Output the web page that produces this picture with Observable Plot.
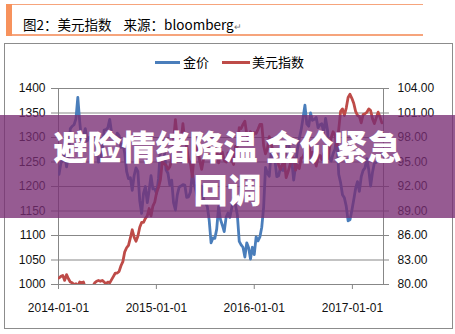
<!DOCTYPE html>
<html>
<head>
<meta charset="utf-8">
<script src="https://cdn.jsdelivr.net/npm/d3@7"></script>
<script src="https://cdn.jsdelivr.net/npm/@observablehq/plot@0.6"></script>
<style>
  html, body { margin: 0; padding: 0; background: #fff; }
  #wrap { position: relative; width: 455px; height: 334px; overflow: hidden; background: #fff; }
  #plot { position: absolute; left: 0; top: 0; }
  .abs { position: absolute; }
  .cjk { font-family: "Noto Sans CJK SC", "Noto Sans", sans-serif; }
</style>
</head>
<body>
<div id="wrap">
  <div id="plot"></div>
  <div class="abs" style="left:4px;top:43px;width:449px;height:286px;box-sizing:border-box;border:1px solid #8c8c8c;"></div>
  <!-- title box -->
  <div class="abs" style="left:6px;top:4px;width:417px;height:1px;background:#f6a47c;"></div>
  <div class="abs" style="left:6px;top:34px;width:417px;height:2px;background:#f6a47c;"></div>
  <div class="abs" style="left:6px;top:4px;width:6px;height:32px;background:#f7925c;"></div>
  <div id="title" class="abs cjk" style="left:23px;top:15px;font-size:13.5px;line-height:18px;color:#000;white-space:pre;"></div>
  <!-- legend -->
  <div id="legend"></div>
  <!-- overlay -->
  <div class="abs" style="left:0;top:115px;width:455px;height:103px;background:rgba(120,45,115,0.78);"></div>
  <div id="headline" class="abs cjk" style="left:0;top:124px;width:455px;text-align:center;font-size:34px;font-weight:900;line-height:43px;color:#fff;"></div>
</div>
<script>
// ---- text ----
const titleText = "图2：美元指数    来源：bloomberg";
const seriesNames = ["金价", "美元指数"];
const seriesColors = ["#4a7ebb", "#be4b48"];
const headlineLines = ["避险情绪降温 金价紧急", "回调"];

// ---- axes ----
const goldTicks = [1000, 1050, 1100, 1150, 1200, 1250, 1300, 1350, 1400];
const dxyTicks = [80, 83, 86, 89, 92, 95, 98, 101, 104];
const xTickLabels = ["2014-01-01", "2015-01-01", "2016-01-01", "2017-01-01"];
const xStart = "2014-01-01";
const xEnd = "2017-04-27";

// ---- weekly (Friday) observations, 2014-01-03 .. 2017-04-21 ----
const gold2014 = [1225,1248,1254,1264,1240,1262,1318,1323,1326,1338,1382,1333,1294,1303,1318,1293,1300,1300,1288,1293,1292,1250,1252,1273,1315,1316,1320,1337,1310,1303,1294,1309,1304,1280,1287,1268,1231,1216,1218,1192,1222,1238,1231,1171,1145,1186,1200,1167,1192,1222,1195,1195];
const gold2015 = [1186,1216,1277,1294,1279,1234,1227,1203,1213,1167,1152,1183,1199,1201,1204,1203,1178,1179,1189,1225,1205,1190,1172,1180,1201,1173,1168,1159,1131,1085,1095,1094,1113,1159,1133,1121,1108,1137,1146,1137,1156,1177,1163,1142,1088,1081,1076,1056,1085,1075,1052,1076];
const gold2016 = [1061,1097,1089,1097,1117,1158,1239,1227,1221,1270,1259,1255,1220,1222,1240,1233,1233,1290,1289,1273,1252,1213,1242,1275,1298,1316,1340,1366,1328,1323,1350,1335,1337,1341,1320,1326,1328,1310,1339,1316,1257,1252,1267,1276,1304,1225,1208,1183,1177,1160,1130,1132,1151];
const gold2017 = [1173,1196,1210,1190,1220,1233,1238,1257,1234,1201,1229,1248,1249,1254,1262,1266];

const dxy2014 = [80.8,81.0,81.1,80.5,81.2,80.7,80.3,80.2,80.0,80.1,79.8,80.3,80.2,80.3,79.6,79.8,79.7,79.5,79.8,80.2,80.4,80.5,80.4,80.5,80.3,80.1,80.3,80.2,80.6,81.0,81.4,81.4,81.6,82.3,82.8,84.0,84.5,84.8,85.7,86.7,85.8,85.3,85.9,87.0,87.6,87.6,88.1,88.4,89.3,88.4,89.6,90.1];
const dxy2015 = [91.3,91.9,92.8,95.0,94.8,94.6,94.1,94.4,95.3,97.6,100.2,97.9,97.3,97.5,99.7,97.5,96.9,95.3,94.8,93.2,96.0,96.9,96.3,95.1,94.1,95.4,96.1,96.0,97.9,97.2,97.3,97.6,96.6,94.9,95.9,96.2,95.2,95.0,96.1,96.1,95.2,94.7,96.9,96.9,99.2,99.1,99.6,100.0,98.4,97.5,98.7,98.0];
const dxy2016 = [98.6,98.5,99.0,99.6,99.6,97.0,96.0,96.6,98.1,97.3,96.2,95.1,95.8,94.6,94.1,94.7,95.1,93.1,93.8,94.6,95.3,95.5,94.0,94.6,94.2,95.5,95.6,96.3,96.6,97.4,95.5,96.2,95.7,94.5,95.5,95.8,95.3,96.1,95.4,95.4,96.5,98.0,98.7,98.3,97.0,99.0,101.2,101.5,100.7,101.6,102.9,103.3,102.8];
const dxy2017 = [102.2,101.2,100.7,100.6,99.8,100.8,100.9,101.1,101.5,101.3,100.3,99.7,100.4,101.1,100.5,99.8];

// ---- build tables ----
const weeks = d3.utcFriday.range(new Date(Date.UTC(2014, 0, 1)), new Date(Date.UTC(2017, 3, 22)));
const goldValues = [...gold2014, ...gold2015, ...gold2016, ...gold2017];
const dxyValues = [...dxy2014, ...dxy2015, ...dxy2016, ...dxy2017];
const n = Math.min(weeks.length, goldValues.length, dxyValues.length);
const goldData = d3.range(n).map(i => ({date: weeks[i], value: goldValues[i]}));
const dxyData = d3.range(n).map(i => ({date: weeks[i], value: dxyValues[i]}));

// secondary axis mapping onto the primary (gold) scale
const g0 = goldTicks[0], g1 = goldTicks[goldTicks.length - 1];
const d0 = dxyTicks[0], d1 = dxyTicks[dxyTicks.length - 1];
const toGold = v => g0 + (v - d0) * (g1 - g0) / (d1 - d0);
const fromGold = g => d0 + (g - g0) * (d1 - d0) / (g1 - g0);

const parse = d3.utcParse("%Y-%m-%d");
const xTicks = xTickLabels.map(parse);
const gridColor = "#878787";

const chart = Plot.plot({
  width: 455,
  height: 334,
  marginLeft: 58,
  marginRight: 72,
  marginTop: 88,
  marginBottom: 50,
  style: {fontFamily: '"Liberation Sans", Arial, sans-serif', fontSize: "12px", color: "#111", background: "transparent"},
  x: {type: "utc", domain: [parse(xStart), parse(xEnd)]},
  y: {domain: [g0, g1]},
  marks: [
    Plot.gridY(goldTicks, {stroke: gridColor, strokeOpacity: 1, strokeWidth: 1}),
    Plot.frame({stroke: gridColor, strokeWidth: 1}),
    Plot.axisY(goldTicks, {anchor: "left", tickSize: 7, tickPadding: 6, stroke: gridColor, fill: "#111", tickFormat: d => String(d), label: null}),
    Plot.axisY(dxyTicks.map(toGold), {anchor: "right", tickSize: 5, tickPadding: 9, stroke: gridColor, fill: "#111", tickFormat: g => fromGold(g).toFixed(2), label: null}),
    Plot.axisX(xTicks, {anchor: "bottom", tickSize: 5, tickPadding: 14, stroke: gridColor, fill: "#111", tickFormat: d3.utcFormat("%Y-%m-%d"), label: null}),
    Plot.lineY(goldData, {x: "date", y: "value", stroke: seriesColors[0], strokeWidth: 2.8, clip: true}),
    Plot.lineY(dxyData, {x: "date", y: d => toGold(d.value), stroke: seriesColors[1], strokeWidth: 2.8, clip: true})
  ]
});
document.getElementById("plot").appendChild(chart);

// title
const t = document.getElementById("title");
t.textContent = titleText;
const mark = document.createElement("span");
mark.textContent = "↵";
mark.style.fontSize = "9px";
mark.style.color = "#777";
t.appendChild(mark);

// legend
const legend = document.getElementById("legend");
const legendPos = [{line: 155, len: 25, text: 183}, {line: 222, len: 28, text: 252}];
seriesNames.forEach((name, i) => {
  const ln = document.createElement("div");
  ln.className = "abs";
  Object.assign(ln.style, {left: legendPos[i].line + "px", top: "61px", width: legendPos[i].len + "px", height: "3px", background: seriesColors[i]});
  legend.appendChild(ln);
  const tx = document.createElement("div");
  tx.className = "abs cjk";
  tx.textContent = name;
  Object.assign(tx.style, {left: legendPos[i].text + "px", top: "53px", fontSize: "13px", lineHeight: "18px", color: "#000"});
  legend.appendChild(tx);
});

// headline
const h = document.getElementById("headline");
headlineLines.forEach((line, i) => {
  if (i) h.appendChild(document.createElement("br"));
  h.appendChild(document.createTextNode(line));
});
</script>
</body>
</html>
